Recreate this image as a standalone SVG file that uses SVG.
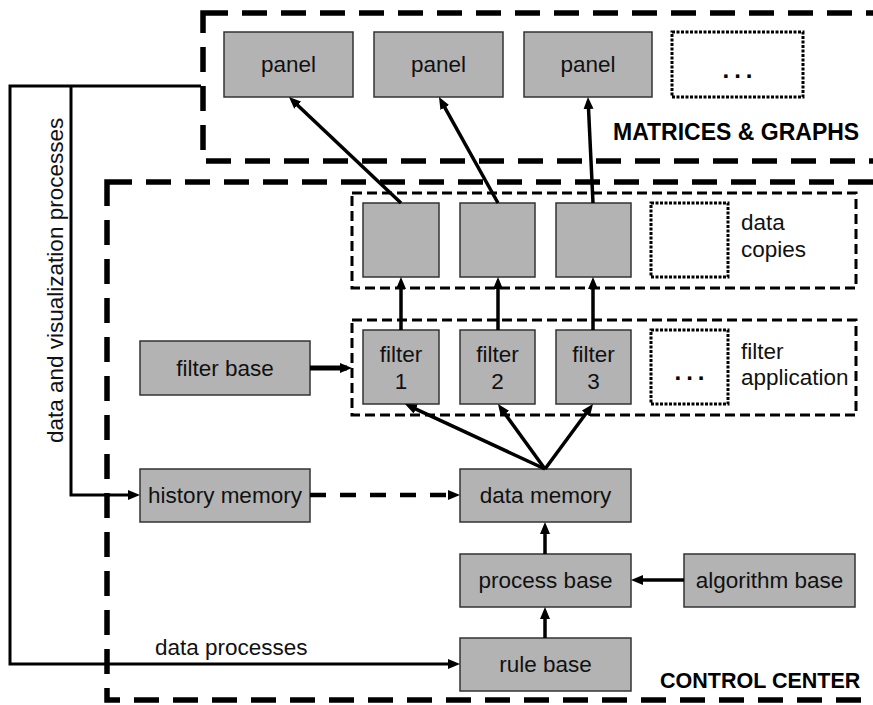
<svg xmlns="http://www.w3.org/2000/svg" width="873" height="705" viewBox="0 0 873 705">
<defs>
<style>
.node{fill:#b3b3b3;stroke:#333;stroke-width:1.5}
.dot{fill:none;stroke:#000;stroke-width:3;stroke-dasharray:3 1.5}
.big{fill:none;stroke:#000;stroke-width:5.5;stroke-dasharray:25 14}
.grp{fill:none;stroke:#000;stroke-width:3;stroke-dasharray:10 5}
.t{font-family:"Liberation Sans",Arial,sans-serif;font-size:22.5px;fill:#111;text-anchor:middle}
.tl{font-family:"Liberation Sans",Arial,sans-serif;font-size:22.5px;fill:#111}
.b{font-family:"Liberation Sans",Arial,sans-serif;font-size:21.5px;font-weight:bold;fill:#000}
.c{fill:none;stroke:#000;stroke-width:3.5}
.dots{font-family:"Liberation Sans",Arial,sans-serif;font-size:24px;font-weight:bold;letter-spacing:5px;fill:#000;text-anchor:middle}
</style>
<marker id="ah" viewBox="0 0 12 10" refX="7" refY="5" markerWidth="12" markerHeight="10" markerUnits="userSpaceOnUse" orient="auto">
<path d="M0,0 L12,5 L0,10 z" fill="#000"/>
</marker>
</defs>
<rect width="873" height="705" fill="#fff"/>

<g id="matrices-graphs">
<rect class="big" x="203" y="13" width="720" height="148"/>
<text class="b" x="613" y="140" style="font-size:23px">MATRICES &amp; GRAPHS</text>
</g>
<g id="control-center">
<rect class="big" x="107" y="182" width="820" height="518"/>
<text class="b" x="660" y="688">CONTROL CENTER</text>
</g>

<g id="data-copies-group">
<rect class="grp" x="352" y="193" width="504" height="95"/>
<text class="tl" x="741" y="230">data</text>
<text class="tl" x="741" y="257">copies</text>
</g>
<g id="filter-application-group">
<rect class="grp" x="352" y="320" width="504" height="95"/>
<text class="tl" x="741" y="359">filter</text>
<text class="tl" x="741" y="385">application</text>
</g>

<g id="panel1"><rect class="node" x="224" y="32" width="129" height="65"/><text class="t" x="288.5" y="72">panel</text></g>
<g id="panel2"><rect class="node" x="374" y="32" width="129" height="65"/><text class="t" x="438.5" y="72">panel</text></g>
<g id="panel3"><rect class="node" x="524" y="32" width="128" height="65"/><text class="t" x="588" y="72">panel</text></g>
<g id="panel-more"><rect class="dot" x="672" y="32" width="131" height="65"/><text class="dots" x="740" y="78">...</text></g>

<g id="copy1"><rect class="node" x="363" y="203" width="76" height="74"/></g>
<g id="copy2"><rect class="node" x="460" y="203" width="75" height="74"/></g>
<g id="copy3"><rect class="node" x="556" y="203" width="75" height="74"/></g>
<g id="copy-more"><rect class="dot" x="651" y="203" width="77" height="74"/></g>

<g id="filter1"><rect class="node" x="363" y="330" width="76" height="74"/><text class="t" x="401" y="362">filter</text><text class="t" x="401" y="389">1</text></g>
<g id="filter2"><rect class="node" x="460" y="330" width="75" height="74"/><text class="t" x="497.5" y="362">filter</text><text class="t" x="497.5" y="389">2</text></g>
<g id="filter3"><rect class="node" x="556" y="330" width="75" height="74"/><text class="t" x="593.5" y="362">filter</text><text class="t" x="593.5" y="389">3</text></g>
<g id="filter-more"><rect class="dot" x="651" y="330" width="77" height="74"/><text class="dots" x="692" y="380">...</text></g>

<g id="filter-base"><rect class="node" x="140" y="341" width="170" height="54"/><text class="t" x="225" y="376">filter base</text></g>
<g id="history-memory"><rect class="node" x="140" y="469" width="170" height="53"/><text class="t" x="225" y="503">history memory</text></g>
<g id="data-memory"><rect class="node" x="460" y="469" width="171" height="53"/><text class="t" x="545.5" y="503">data memory</text></g>
<g id="process-base"><rect class="node" x="460" y="554" width="171" height="53"/><text class="t" x="545.5" y="588">process base</text></g>
<g id="algorithm-base"><rect class="node" x="684" y="554" width="171" height="53"/><text class="t" x="769.5" y="588">algorithm base</text></g>
<g id="rule-base"><rect class="node" x="460" y="638" width="171" height="53"/><text class="t" x="545.5" y="672">rule base</text></g>

<g id="connectors">
<path class="c" d="M401,203 L292.6,100.4" marker-end="url(#ah)"/>
<path class="c" d="M498,203 L441.4,101.4" marker-end="url(#ah)"/>
<path class="c" d="M593,203 L588.2,102" marker-end="url(#ah)"/>
<path class="c" d="M401,330 V282" marker-end="url(#ah)"/>
<path class="c" d="M498,330 V282" marker-end="url(#ah)"/>
<path class="c" d="M593,330 V282" marker-end="url(#ah)"/>
<path class="c" d="M545,469 L409.5,406.1" marker-end="url(#ah)"/>
<path class="c" d="M545,469 L500.9,408.1" marker-end="url(#ah)"/>
<path class="c" d="M545,469 L590,408" marker-end="url(#ah)"/>
<path class="c" style="stroke-width:5" d="M310,368 H347" marker-end="url(#ah)"/>
<path class="c" style="stroke-width:4.5;stroke-dasharray:16 14" d="M310,495 H455" marker-end="url(#ah)"/>
<path class="c" d="M545,554 V527" marker-end="url(#ah)"/>
<path class="c" d="M545,638 V612" marker-end="url(#ah)"/>
<path class="c" d="M684,580 H636" marker-end="url(#ah)"/>
<path class="c" style="stroke-width:3" d="M201,86 H10 V664 H455" marker-end="url(#ah)"/>
<path class="c" style="stroke-width:3" d="M71,86 V495 H135" marker-end="url(#ah)"/>
<text class="tl" x="155" y="655">data processes</text>
<text class="tl" transform="translate(63,443) rotate(-90)">data and visualization processes</text>
</g>
</svg>
